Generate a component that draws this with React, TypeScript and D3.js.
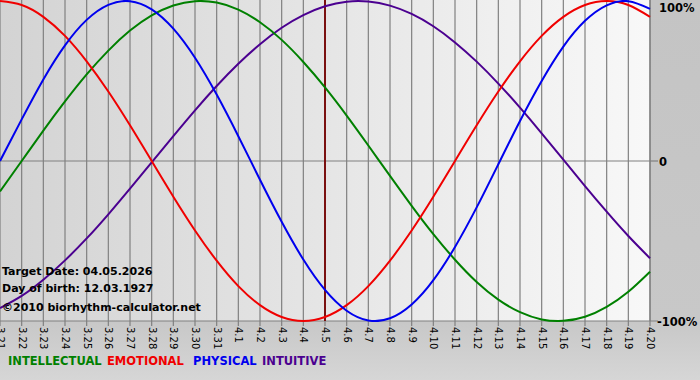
import React from "react";
import * as d3 from "d3";

const dayLabels = [
  "3.21","3.22","3.23","3.24","3.25","3.26","3.27","3.28","3.29","3.30","3.31",
  "4.1","4.2","4.3","4.4","4.5","4.6","4.7","4.8","4.9","4.10",
  "4.11","4.12","4.13","4.14","4.15","4.16","4.17","4.18","4.19","4.20",
];

const physical = [
  0, 0.26, 0.51, 0.723, 0.882, 0.976, 0.999, 0.948, 0.827, 0.645, 0.415,
  0.155, -0.117, -0.38, -0.616, -0.806, -0.936, -0.997, -0.983, -0.897, -0.745,
  -0.537, -0.29, -0.02, 0.25, 0.5, 0.715, 0.876, 0.973, 0.999, 0.951,
];
const emotional = [
  1, 0.975, 0.901, 0.782, 0.623, 0.434, 0.223, 0, -0.223, -0.434, -0.623,
  -0.782, -0.901, -0.975, -1, -0.975, -0.901, -0.782, -0.623, -0.434, -0.223,
  0, 0.223, 0.434, 0.623, 0.782, 0.901, 0.975, 1, 0.975, 0.901,
];
const intellectual = [
  -0.19, 0.0, 0.19, 0.372, 0.541, 0.69, 0.815, 0.91, 0.972, 0.999, 0.99,
  0.946, 0.867, 0.757, 0.619, 0.46, 0.284, 0.097, -0.093, -0.28, -0.457,
  -0.617, -0.756, -0.866, -0.945, -0.99, -0.999, -0.973, -0.911, -0.817, -0.692,
];
const intuitive = [
  -0.919, -0.843, -0.742, -0.621, -0.484, -0.333, -0.173, -0.008, 0.156, 0.317, 0.469,
  0.608, 0.73, 0.833, 0.912, 0.967, 0.996, 0.997, 0.971, 0.919, 0.842,
  0.741, 0.621, 0.484, 0.333, 0.173, 0.008, -0.157, -0.317, -0.469, -0.608,
];

const targetLabel = "4.5";
const yTicks = [
  { v: 1, label: "100%" },
  { v: 0, label: "0" },
  { v: -1, label: "-100%" },
];
const infoLines = [
  "Target Date: 04.05.2026",
  "Day of birth: 12.03.1927",
  "\u00A92010 biorhythm-calculator.net",
];

const series = [
  { name: "INTELLECTUAL", values: intellectual, color: "#008000" },
  { name: "EMOTIONAL", values: emotional, color: "#f00000" },
  { name: "PHYSICAL", values: physical, color: "#0000ee" },
  { name: "INTUITIVE", values: intuitive, color: "#4b0090" },
];
const drawOrder = ["INTUITIVE", "INTELLECTUAL", "EMOTIONAL", "PHYSICAL"];

const W = 700;
const H = 380;
const PL = 0;
const PR = 650;
const PT = 0;
const PB = 321;

export default function App() {
  const x = d3.scaleLinear().domain([0, dayLabels.length - 1]).range([PL, PR]);
  const y = d3.scaleLinear().domain([-1, 1]).range([PB, PT + 1]);
  const line = d3
    .line<number>()
    .x((_, i) => x(i))
    .y((d) => y(d))
    .curve(d3.curveNatural);
  const font = "'DejaVu Sans', Verdana, sans-serif";
  const targetIdx = dayLabels.indexOf(targetLabel);
  const legendX = [8, 107, 193, 262];

  return (
    <svg
      width={W}
      height={H}
      style={{ position: "absolute", left: 0, top: 0, display: "block" }}
      fontFamily={font}
    >
      <defs>
        <linearGradient id="plotBg" x1="0" x2="1" y1="0" y2="0">
          <stop offset="0" stopColor="#d3d3d3" />
          <stop offset="1" stopColor="#f8f8f8" />
        </linearGradient>
        <linearGradient id="outerBg" x1="0" x2="0" y1="0" y2="1">
          <stop offset="0" stopColor="#c4c4c4" />
          <stop offset="0.85" stopColor="#c8c8c8" />
          <stop offset="1" stopColor="#d6d6d6" />
        </linearGradient>
        <clipPath id="plotClip">
          <rect x={PL} y={PT - 2} width={PR - PL + 1} height={PB - PT + 3} />
        </clipPath>
      </defs>
      <rect x={0} y={0} width={W} height={H} fill="url(#outerBg)" />
      <rect x={PL} y={PT} width={PR - PL} height={PB - PT} fill="url(#plotBg)" />
      {dayLabels.map((lab, i) => (
        <g key={lab}>
          <line x1={x(i)} x2={x(i)} y1={PT} y2={PB + 5} stroke="#808080" strokeWidth={1.2} />
          <text
            transform={`translate(${x(i)},${PB + 6}) rotate(90)`}
            fontSize={10}
            dominantBaseline="middle"
            textAnchor="start"
            fill="#000"
          >
            {lab}
          </text>
        </g>
      ))}
      <line x1={PL} x2={PR} y1={y(0)} y2={y(0)} stroke="#808080" strokeWidth={1.2} />
      <line x1={PL} x2={PR + 8} y1={PB} y2={PB} stroke="#808080" strokeWidth={1.2} />
      <line x1={PR} x2={PR + 8} y1={y(0)} y2={y(0)} stroke="#808080" strokeWidth={1.2} />
      <line x1={PR} x2={PR} y1={PT} y2={PB} stroke="#808080" strokeWidth={1.2} />
      {yTicks.map((t) => (
        <text
          key={t.label}
          x={t.v === -1 ? 657 : 659}
          y={t.v === 1 ? y(t.v) + 7 : y(t.v) + 1}
          fontSize={11.5}
          fontWeight="bold"
          dominantBaseline="middle"
          fill="#000"
        >
          {t.label}
        </text>
      ))}
      <line
        x1={x(targetIdx)}
        x2={x(targetIdx)}
        y1={PT}
        y2={PB}
        stroke="#7a1010"
        strokeWidth={2}
      />
      <g clipPath="url(#plotClip)">
        {drawOrder.map((n) => {
          const s = series.find((q) => q.name === n)!;
          return (
            <path key={n} d={line(s.values) || ""} fill="none" stroke={s.color} strokeWidth={2} />
          );
        })}
      </g>
      {infoLines.map((t, i) => (
        <text key={t} x={2} y={275 + i * 17 + (i === 2 ? 2 : 0)} fontSize={11} fontWeight="bold" fill="#000">
          {t}
        </text>
      ))}
      {series.map((s, i) => (
        <text key={s.name} x={legendX[i]} y={365} fontSize={11.5} fontWeight="bold" fill={s.color}>
          {s.name}
        </text>
      ))}
    </svg>
  );
}
